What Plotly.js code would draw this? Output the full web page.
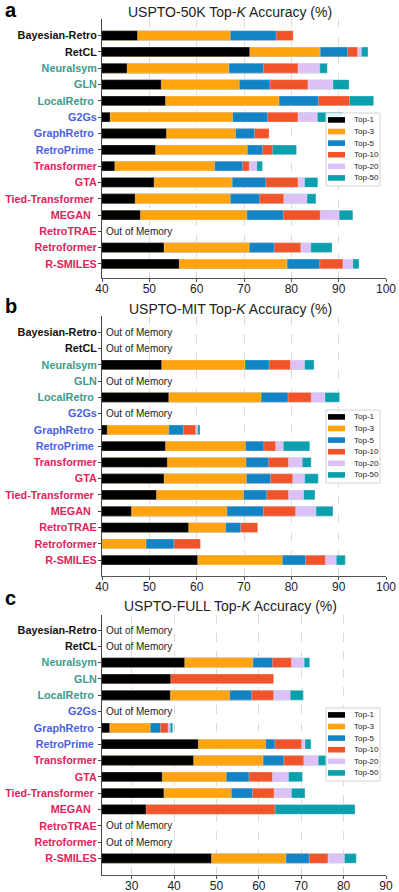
<!DOCTYPE html>
<html>
<head>
<meta charset="utf-8">
<script src="https://cdn.plot.ly/plotly-3.0.1.min.js"></script>
<style>
  html, body { margin: 0; padding: 0; background: #fff; }
  #chart { width: 399px; height: 892px; }
</style>
</head>
<body>
<div id="chart"></div>
<script>
// methods, top to bottom (trailing spaces as in the original labels)
const methods = ['Bayesian-Retro', 'RetCL', 'Neuralsym', 'GLN', 'LocalRetro\u00a0', 'G2Gs', 'GraphRetro\u00a0',
  'RetroPrime\u00a0', 'Transformer', 'GTA', 'Tied-Transformer\u00a0', 'MEGAN\u00a0\u00a0', 'RetroTRAE', 'Retroformer', 'R-SMILES'];
const topK = ['Top-1', 'Top-3', 'Top-5', 'Top-10', 'Top-20', 'Top-50'];

// USPTO-50K
const k50_top1  = [47.5, 71.2, 45.3, 52.5, 53.4, 41.7, 53.6, 51.3, 42.7, 51.0, 47.0, 48.1, null, 53.1, 56.3];
const k50_top3  = [67.1, 86.1, 66.8, 69.0, 77.4, 67.6, 68.2, 70.7, 63.8, 67.5, 67.1, 70.6, null, 71.1, 79.1];
const k50_top5  = [76.8, 91.9, 74.1, 75.5, 85.7, 75.0, 72.2, 73.9, 69.7, 74.6, 73.3, 78.3, null, 76.4, 86.0];
const k50_top10 = [80.4, 94.0, 81.4, 83.5, 92.3, 81.4, 75.3, 76.0, 71.1, 81.4, 78.4, 86.1, null, 82.0, 90.9];
const k50_top20 = [null, 94.8, 86.0, 88.8, null, 85.5, null, null, 72.7, 82.8, 83.3, 90.1, null, 84.1, 93.0];
const k50_top50 = [null, 96.2, 87.6, 92.2, 97.4, 90.8, null, 81.1, 73.9, 85.6, 85.2, 93.0, null, 88.6, 94.3];

// USPTO-MIT
const mit_top1  = [null, null, 52.6, null, 54.1, null, 41.1, 53.4, 53.8, 53.1, 51.5, 46.2, 58.3, null, 60.2];
const mit_top3  = [null, null, 70.2, null, 73.6, null, 54.1, 70.3, 70.4, 70.5, 69.9, 66.4, 66.1, 49.3, 78.1];
const mit_top5  = [null, null, 75.3, null, 79.3, null, 57.2, 74.2, 75.2, 75.6, 74.8, 74.1, 69.3, 55.2, 83.0];
const mit_top10 = [null, null, 79.8, null, 84.2, null, 59.8, 76.7, 79.4, 80.3, 79.4, 80.9, 72.9, 60.8, 87.2];
const mit_top20 = [null, null, 82.8, null, 87.1, null, 60.2, 78.3, 82.3, 82.8, 82.6, 85.2, null, null, 89.5];
const mit_top50 = [null, null, 84.8, null, 90.2, null, 60.7, 83.9, 84.2, 85.7, 85.0, 88.8, null, null, 91.4];

// USPTO-FULL
const full_top1  = [null, null, 42.5, 39.2, 39.1, null, 24.8, 45.7, 44.6, 37.2, 37.6, 33.4, null, null, 48.8];
const full_top3  = [null, null, 58.6, null, 53.1, null, 34.4, 61.6, 61.0, 52.3, 53.5, null, null, null, 66.4];
const full_top5  = [null, null, 63.2, null, 58.3, null, 36.8, 63.8, 65.9, 57.7, 58.5, null, null, null, 71.9];
const full_top10 = [null, null, 67.7, 63.5, 63.5, null, 38.6, 70.1, 70.6, 63.2, 63.6, 63.8, null, null, 76.3];
const full_top20 = [null, null, 70.7, null, 67.4, null, 39.1, 70.9, 74.0, 67.0, 67.7, null, null, null, 80.2];
const full_top50 = [null, null, 72.0, null, 70.5, null, 39.7, 72.3, 76.5, 70.3, 70.9, 82.7, null, null, 83.0];

// styles
const barColors = ['#000000', '#FFA40F', '#1284C6', '#F1542A', '#DCC1F7', '#0C9FAE'];
const labelColors = ['#111', '#111', '#3d9a8e', '#3d9a8e', '#3d9a8e', '#4b61e0', '#4b61e0', '#4b61e0',
  '#e2245b', '#e2245b', '#e2245b', '#e2245b', '#e2245b', '#e2245b', '#e2245b'];
const font = 'Liberation Sans, Arial, sans-serif';

const W = 399, H = 892, ML = 102, MR = 13;
const px2x = px => (px - ML) / (W - ML - MR);
const py2y = py => 1 - py / H;

const panels = [
  { s: '', letter: 'a', name: 'USPTO-50K', data: [k50_top1, k50_top3, k50_top5, k50_top10, k50_top20, k50_top50],
    xr: [40, 100], yr: [14.86, -1.02], top: 19, bottom: 278, titleY: 12, letterY: 10, legTop: 113 },
  { s: '2', letter: 'b', name: 'USPTO-MIT', data: [mit_top1, mit_top3, mit_top5, mit_top10, mit_top20, mit_top50],
    xr: [40, 100], yr: [14.98, -1.0], top: 316, bottom: 576, titleY: 309, letterY: 306, legTop: 410 },
  { s: '3', letter: 'c', name: 'USPTO-FULL', data: [full_top1, full_top3, full_top5, full_top10, full_top20, full_top50],
    xr: [23, 90], yr: [15.02, -0.92], top: 615, bottom: 875, titleY: 606, letterY: 598, legTop: 708 }
];

const ticktext = methods.map((m, i) => '<b><span style="color:' + labelColors[i] + '">' + m + '</span></b>');

const traces = [];
const annotations = [];
const shapes = [];
const layout = {
  width: W, height: H,
  margin: { l: ML, r: MR, t: 0, b: 0 },
  barmode: 'overlay',
  paper_bgcolor: '#fff', plot_bgcolor: '#fff',
  font: { family: font, color: '#222' },
  showlegend: false
};

panels.forEach(p => {
  // longest (Top-50) first so shorter ones sit on top
  for (let k = topK.length - 1; k >= 0; k--) {
    traces.push({
      type: 'bar', orientation: 'h',
      x: p.data[k], y: methods,
      name: topK[k],
      width: 0.6,
      marker: { color: barColors[k], line: { width: 0.5, color: 'rgba(255,255,255,0.6)' } },
      xaxis: 'x' + p.s, yaxis: 'y' + p.s,
      hoverinfo: 'x+name'
    });
  }

  layout['xaxis' + p.s] = {
    anchor: 'y' + p.s, range: p.xr, tick0: 0, dtick: 10,
    showgrid: true, gridcolor: '#dcdcdc', griddash: 'dash', gridwidth: 1,
    zeroline: false, showline: true, linecolor: '#555', linewidth: 1,
    ticks: 'outside', ticklen: 3, tickcolor: '#555',
    ticklabelstandoff: -3,
    tickfont: { size: 12, color: '#222' }
  };
  layout['yaxis' + p.s] = {
    anchor: 'x' + p.s, domain: [py2y(p.bottom), py2y(p.top)], type: 'category',
    categoryorder: 'array', categoryarray: methods,
    tickvals: methods, ticktext: ticktext,
    range: p.yr, showgrid: false, zeroline: false,
    showline: true, linecolor: '#444', linewidth: 1,
    ticks: 'outside', ticklen: 3, tickcolor: '#444',
    ticklabelstandoff: -1,
    tickfont: { size: 10.8, family: font }
  };

  annotations.push({
    xref: 'paper', yref: 'paper', x: px2x(230), y: py2y(p.titleY), xanchor: 'center', yanchor: 'middle',
    text: p.name + ' Top-<i>K</i> Accuracy (%)', showarrow: false,
    font: { size: 14, color: '#222' }
  });
  annotations.push({
    xref: 'paper', yref: 'paper', x: px2x(3), y: py2y(p.letterY), xanchor: 'left', yanchor: 'middle',
    text: '<b>' + p.letter + '</b>', showarrow: false,
    font: { size: 20, color: '#000' }
  });

  // methods with no result at all
  methods.forEach((m, i) => {
    if (p.data.every(arr => arr[i] === null)) {
      annotations.push({
        xref: 'x' + p.s, yref: 'y' + p.s, x: p.xr[0], y: m,
        xanchor: 'left', yanchor: 'middle', xshift: 2,
        text: 'Out of Memory', showarrow: false,
        font: { size: 10, color: '#222' }
      });
    }
  });

  // compact legend box, matplotlib style
  const lx = 326, ly = p.legTop, boxW = 54, boxH = 73, step = 11.6;
  shapes.push({
    type: 'rect', xref: 'paper', yref: 'paper', layer: 'above',
    x0: px2x(lx), x1: px2x(lx + boxW), y0: py2y(ly), y1: py2y(ly + boxH),
    fillcolor: 'rgba(255,255,255,0.9)', line: { color: '#d4d4d4', width: 1 }
  });
  topK.forEach((lab, k) => {
    const cy = ly + 6.9 + step * k;
    shapes.push({
      type: 'rect', xref: 'paper', yref: 'paper', layer: 'above',
      x0: px2x(lx + 2), x1: px2x(lx + 19), y0: py2y(cy - 2.8), y1: py2y(cy + 2.8),
      fillcolor: barColors[k], line: { width: 0 }
    });
    annotations.push({
      xref: 'paper', yref: 'paper', x: px2x(lx + 25.5), y: py2y(cy), xanchor: 'left', yanchor: 'middle',
      text: lab, showarrow: false, font: { size: 8, color: '#222' }
    });
  });
});

layout.annotations = annotations;
layout.shapes = shapes;

Plotly.newPlot('chart', traces, layout, { displayModeBar: false, staticPlot: true });
</script>
</body>
</html>
